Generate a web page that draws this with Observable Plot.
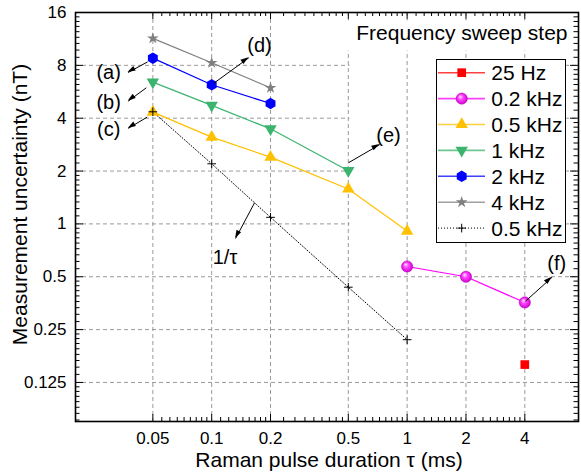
<!DOCTYPE html>
<html><head><meta charset="utf-8">
<script src="https://cdn.jsdelivr.net/npm/d3@7"></script>
<script src="https://cdn.jsdelivr.net/npm/@observablehq/plot@0.6"></script>
<style>body{margin:0;background:#fff;} #chart{width:581px;height:474px;}</style>
</head><body><div id="chart"></div>
<script>
// ---- data ----
const tau25 = [4];                 const u25 = [0.158];
const tau02 = [1, 2, 4];           const u02 = [0.572, 0.5, 0.357];
const tau05 = [0.05, 0.1, 0.2, 0.5, 1]; const u05 = [4.33, 3.12, 2.4, 1.58, 0.91];
const tau1 = [0.05, 0.1, 0.2, 0.5]; const u1 = [6.42, 4.73, 3.48, 2.01];
const tau2 = [0.05, 0.1, 0.2];     const u2 = [8.79, 6.2, 4.85];
const tau4 = [0.05, 0.1, 0.2];     const u4 = [11.4, 8.27, 5.96];
const tauInv = [0.05, 0.1, 0.2, 0.5, 1]; const uInv = [4.35, 2.2, 1.09, 0.436, 0.219];
const seriesNames = ["25 Hz", "0.2 kHz", "0.5 kHz", "1 kHz", "2 kHz", "4 kHz", "0.5 kHz"];
const xTicks = [0.05, 0.1, 0.2, 0.5, 1, 2, 4];
const xTickLabels = ["0.05", "0.1", "0.2", "0.5", "1", "2", "4"];
const yTicks = [0.125, 0.25, 0.5, 1, 2, 4, 8, 16];
const yTickLabels = ["0.125", "0.25", "0.5", "1", "2", "4", "8", "16"];
const legendTitle = "Frequency sweep step";
const xTitle = "Raman pulse duration τ (ms)";
const yTitle = "Measurement uncertainty (nT)";
// annotations (data coordinates)
const annArrows = [
  {x1: 0.047, y1: 8.37, x2: 0.0373, y2: 7.28},
  {x1: 0.0463, y1: 5.96, x2: 0.0374, y2: 5.0},
  {x1: 0.0468, y1: 4.06, x2: 0.0374, y2: 3.5},
  {x1: 0.1026, y1: 6.33, x2: 0.155, y2: 8.84},
  {x1: 0.1657, y1: 1.319, x2: 0.1325, y2: 0.826},
  {x1: 0.501, y1: 2.23, x2: 0.725, y2: 2.83},
  {x1: 4.03, y1: 0.3626, x2: 5.52, y2: 0.497}
];
const annLabels = [
  {x: 0.0297, y: 7.28, text: "(a)"},
  {x: 0.0297, y: 4.91, text: "(b)"},
  {x: 0.0297, y: 3.45, text: "(c)"},
  {x: 0.1757, y: 10.38, text: "(d)"},
  {x: 0.117, y: 0.6466, text: "1/τ"},
  {x: 0.803, y: 3.19, text: "(e)"},
  {x: 5.83, y: 0.593, text: "(f)"}
];

// ---- styles ----
const colors = ["#ff0000", "#ff00ff", "#ffc000", "#3cb46e", "#0000ff", "#808080", "#000000"];
const FONT = "'Liberation Sans', Arial, sans-serif";
const BIG = 21;
const hexagon = {draw(ctx, size) {
  const R = Math.sqrt(size / (3 * Math.sqrt(3) / 2));
  for (let k = 0; k < 6; k++) {
    const a = -Math.PI / 2 + k * Math.PI / 3;
    const px = R * Math.cos(a), py = R * Math.sin(a);
    if (k === 0) ctx.moveTo(px, py); else ctx.lineTo(px, py);
  }
  ctx.closePath();
}};
const syms = [
  {symbol: "square", r: 4.9},
  {symbol: "circle", r: 5.6},
  {symbol: "triangle", r: 4.6},
  {symbol: "triangle", r: 4.6, rotate: 180},
  {symbol: hexagon, r: 5.2},
  {symbol: "star", r: 3.7},
  {symbol: "plus", r: 2.9}
];

const zip = (xs, ys) => xs.map((x, i) => ({x, y: ys[i]}));
const sets = [zip(tau25, u25), zip(tau02, u02), zip(tau05, u05), zip(tau1, u1), zip(tau2, u2), zip(tau4, u4), zip(tauInv, uInv)];

// minor ticks: linear subdivisions between major ticks
function minors(majors, n) {
  const out = [];
  for (let i = 0; i < majors.length - 1; i++) {
    const a = majors[i], b = majors[i + 1];
    for (let k = 1; k < n; k++) out.push(a + k * (b - a) / n);
  }
  return out;
}
const xMinor = minors(xTicks, 9);
const yMinor = minors([0.0625, ...yTicks], 9).filter(v => v > 0.0755);

const W = 581, H = 474, ML = 75, MR = 3, MT = 12, MB = 53;
const PW = W - ML - MR, PH = H - MT - MB;
const gridStyle = {stroke: "#9a9a9a", strokeWidth: 1, strokeDasharray: "4,3"};

const marks = [
  Plot.ruleY(yTicks.filter(v => v < 16), gridStyle),
  Plot.frame({fill: "white", stroke: null, insetLeft: 349 - ML, insetRight: W - MR - 436, insetTop: 50 - MT, insetBottom: H - MB - 242}),
  Plot.ruleX(xTicks, gridStyle),
  Plot.frame({fill: "white", stroke: null, insetLeft: 345 - ML, insetRight: 1, insetTop: 20 - MT, insetBottom: H - MB - 50}),
  // ticks (inward, all four sides)
  Plot.tickX(xTicks, {insetTop: PH - 7, stroke: "black"}),
  Plot.tickX(xTicks, {insetBottom: PH - 7, stroke: "black"}),
  Plot.tickX(xMinor, {insetTop: PH - 4, stroke: "black"}),
  Plot.tickX(xMinor, {insetBottom: PH - 4, stroke: "black"}),
  Plot.tickY(yTicks, {insetRight: PW - 8, stroke: "black"}),
  Plot.tickY(yTicks, {insetLeft: PW - 8, stroke: "black"}),
  Plot.tickY(yMinor, {insetRight: PW - 4.5, stroke: "black"}),
  Plot.tickY(yMinor, {insetLeft: PW - 4.5, stroke: "black"}),
  // tick labels
  Plot.text(xTicks, {x: d => d, text: (d, i) => xTickLabels[i], frameAnchor: "bottom", textAnchor: "middle", lineAnchor: "middle", dy: 17.3, fontSize: 17, fill: "black"}),
  Plot.text(yTicks, {y: d => d, text: (d, i) => yTickLabels[i], frameAnchor: "left", textAnchor: "end", lineAnchor: "middle", dx: -9, fontSize: 17, fill: "black"}),
];
// lines
sets.forEach((d, i) => {
  if (d.length > 1) marks.push(Plot.line(d, {x: "x", y: "y", stroke: colors[i], strokeWidth: i === 6 ? 1 : 1.2, strokeDasharray: i === 6 ? "1,2" : null}));
});
// markers
sets.forEach((d, i) => {
  const s = syms[i];
  const opts = {x: "x", y: "y", symbol: s.symbol, r: s.r};
  if (s.rotate) opts.rotate = s.rotate;
  if (i === 6) { opts.stroke = "black"; opts.strokeWidth = 1; opts.fill = "none"; }
  else if (i === 1) { opts.fill = "#ff00ff"; opts.stroke = "#c000c0"; opts.strokeWidth = 0.6; opts.className = "sphere"; }
  else { opts.fill = colors[i]; opts.stroke = "none"; }
  marks.push(Plot.dot(d, opts));
});
marks.push(
  Plot.link(annArrows, {x1: "x1", y1: "y1", x2: "x2", y2: "y2", stroke: "black", strokeWidth: 1}),
  Plot.text(annLabels, {x: "x", y: "y", text: "text", fontSize: 20, fill: "black"}),
  Plot.text([legendTitle], {text: d => d, frameAnchor: "top-right", textAnchor: "end", lineAnchor: "middle", dx: -11, dy: 21, fontSize: BIG, fill: "black"}),
  Plot.text([xTitle], {text: d => d, frameAnchor: "bottom", textAnchor: "middle", lineAnchor: "middle", dx: 2, dy: 39, fontSize: BIG, fill: "black"}),
  Plot.text([yTitle], {text: d => d, frameAnchor: "left", textAnchor: "middle", rotate: -90, lineAnchor: "middle", dx: -55.5, dy: -12.5, fontSize: BIG, fill: "black"}),
  Plot.frame({stroke: "black", strokeWidth: 1.6})
);

const plot = Plot.plot({
  width: W, height: H,
  marginLeft: ML, marginRight: MR, marginTop: MT, marginBottom: MB,
  style: {fontFamily: FONT, background: "white", color: "black"},
  x: {type: "log", domain: [0.0201, 7.53], axis: null},
  y: {type: "log", base: 2, domain: [0.0749, 16], axis: null},
  marks
});

const svg = d3.select(plot);
svg.insert("defs", ":first-child").html(
  '<radialGradient id="sph" cx="0.5" cy="0.5" r="0.55" fx="0.35" fy="0.3">' +
  '<stop offset="0" stop-color="#ffe6ff"/><stop offset="0.45" stop-color="#ff3cff"/><stop offset="1" stop-color="#c400c4"/></radialGradient>');
svg.selectAll(".sphere").attr("fill", "url(#sph)");
svg.selectAll(".sphere path").attr("fill", "url(#sph)");

// filled arrow heads using the plot's scales
const sx = plot.scale("x"), sy = plot.scale("y");
const heads = svg.append("g");
annArrows.forEach(a => {
  const X1 = sx.apply(a.x1), Y1 = sy.apply(a.y1), X2 = sx.apply(a.x2), Y2 = sy.apply(a.y2);
  const dx = X2 - X1, dy = Y2 - Y1, L = Math.hypot(dx, dy), ux = dx / L, uy = dy / L;
  const len = 8, hw = 2.6;
  const bx = X2 - ux * len, by = Y2 - uy * len;
  heads.append("path").attr("d", `M${X2},${Y2}L${bx - uy * hw},${by + ux * hw}L${bx + uy * hw},${by - ux * hw}Z`).attr("fill", "black");
});

// legend box
const lg = svg.append("g").attr("font-family", FONT).attr("text-anchor", "start");
lg.append("rect").attr("x", 436.5).attr("y", 59.5).attr("width", 129).attr("height", 183)
  .attr("fill", "white").attr("stroke", "black").attr("stroke-width", 1);
const symMap = {square: d3.symbolSquare, circle: d3.symbolCircle, triangle: d3.symbolTriangle, star: d3.symbolStar, plus: d3.symbolPlus};
seriesNames.forEach((name, i) => {
  const y = 72.7 + i * 25.9;
  lg.append("line").attr("x1", 438).attr("x2", 485).attr("y1", y).attr("y2", y)
    .attr("stroke", colors[i]).attr("stroke-width", i === 6 ? 1 : 1.6).attr("stroke-opacity", i === 6 ? 1 : 0.75)
    .attr("stroke-dasharray", i === 6 ? "1,2" : null);
  const s = syms[i];
  const type = typeof s.symbol === "string" ? symMap[s.symbol] : s.symbol;
  const p = lg.append("path").attr("d", d3.symbol(type, s.r * s.r * Math.PI)())
    .attr("transform", `translate(461.7,${y})${s.rotate ? " rotate(180)" : ""}`);
  if (i === 6) p.attr("fill", "none").attr("stroke", "black");
  else if (i === 1) p.attr("fill", "url(#sph)").attr("stroke", "#c000c0").attr("stroke-width", 0.6);
  else p.attr("fill", colors[i]);
  lg.append("text").attr("x", 491.3).attr("y", y).attr("dy", "0.36em").attr("text-anchor", "start")
    .attr("font-size", BIG).attr("fill", "black").text(name);
});

document.getElementById("chart").appendChild(plot);
</script>
</body></html>
